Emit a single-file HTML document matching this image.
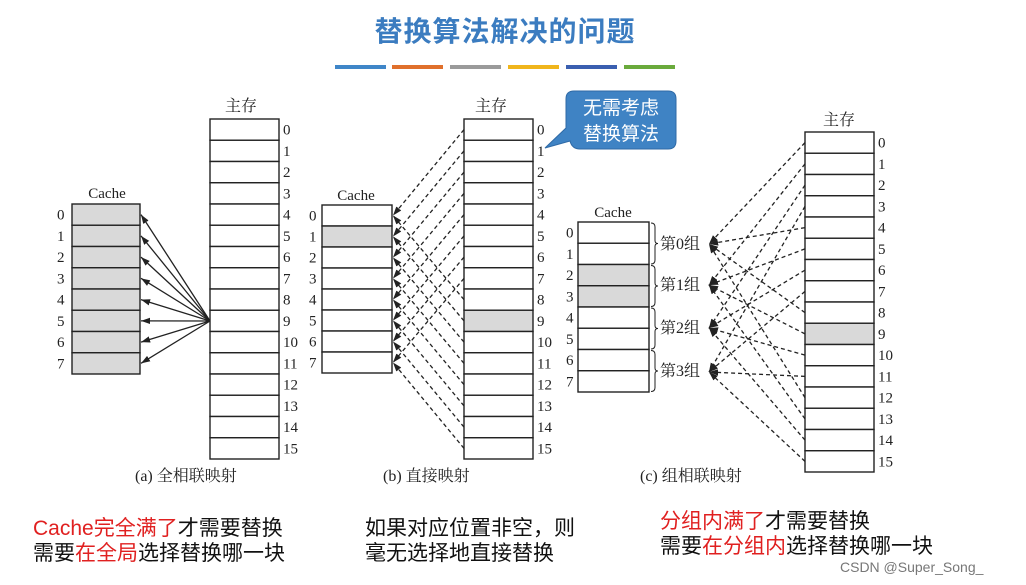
<!DOCTYPE html>
<html><head><meta charset="utf-8">
<style>
html,body{margin:0;padding:0;background:#fff;}
body{width:1026px;height:585px;position:relative;overflow:hidden;font-family:"Liberation Sans","Noto Sans CJK SC",sans-serif;}
.title{position:absolute;left:0;width:1010px;top:10px;text-align:center;font-size:28px;color:#3b7cc0;font-weight:bold;letter-spacing:1px;}
.t{position:absolute;font-size:21px;color:#111;line-height:25px;}
.r{color:#e02020;}
.wm{position:absolute;left:840px;top:559px;font-size:14px;color:#777;}
svg{position:absolute;left:0;top:0;}
svg text{font-family:"Liberation Serif","Noto Serif CJK SC",serif;fill:#222;}
</style></head><body>
<div class="title">替换算法解决的问题</div>
<svg id="s" width="1026" height="585" xmlns="http://www.w3.org/2000/svg">
<defs>
<marker id="ah" viewBox="0 0 10 10" refX="10" refY="5" markerWidth="7" markerHeight="7" orient="auto-start-reverse"><path d="M0,1.5 L10,5 L0,8.5 z" fill="#222"/></marker>
</defs>
<rect x="335" y="65" width="51" height="4" fill="#3f86c8"/>
<rect x="392" y="65" width="51" height="4" fill="#e0702c"/>
<rect x="450" y="65" width="51" height="4" fill="#9a9a9a"/>
<rect x="508" y="65" width="51" height="4" fill="#f0b51c"/>
<rect x="566" y="65" width="51" height="4" fill="#3a5fb0"/>
<rect x="624" y="65" width="51" height="4" fill="#6aaa3c"/>
<g id="g"></g>
<text x="241" y="111" font-size="16" text-anchor="middle">主存</text>
<text x="107" y="198" font-size="15" text-anchor="middle">Cache</text>
<text x="491" y="111" font-size="16" text-anchor="middle">主存</text>
<text x="356" y="200" font-size="15" text-anchor="middle">Cache</text>
<text x="839" y="125" font-size="16" text-anchor="middle">主存</text>
<text x="613" y="217" font-size="15" text-anchor="middle">Cache</text>
<text x="135" y="481" font-size="16">(a) 全相联映射</text>
<text x="383" y="481" font-size="16">(b) 直接映射</text>
<text x="640" y="481" font-size="16">(c) 组相联映射</text>
<text x="660" y="249" font-size="16">第0组</text>
<text x="660" y="290" font-size="16">第1组</text>
<text x="660" y="333" font-size="16">第2组</text>
<text x="660" y="376" font-size="16">第3组</text>
<path d="M574,91 H668 Q676,91 676,99 V141 Q676,149 668,149 H580 Q572,149 570,141 L545,148 L566,128 V99 Q566,91 574,91 Z" fill="#3f83c4" stroke="#2f6aa6"/>
<text x="621" y="114" font-size="19" text-anchor="middle" style="fill:#fff;font-family:'Noto Sans CJK SC',sans-serif">无需考虑</text>
<text x="621" y="140" font-size="19" text-anchor="middle" style="fill:#fff;font-family:'Noto Sans CJK SC',sans-serif">替换算法</text>
</svg>
<div class="t" style="left:33px;top:516px"><span class="r">Cache完全满了</span>才需要替换<br>需要<span class="r">在全局</span>选择替换哪一块</div>
<div class="t" style="left:365px;top:516px">如果对应位置非空，则<br>毫无选择地直接替换</div>
<div class="t" style="left:660px;top:509px"><span class="r">分组内满了</span>才需要替换<br>需要<span class="r">在分组内</span>选择替换哪一块</div>
<div class="wm">CSDN @Super_Song_</div>
<script>
var g=document.getElementById('g'),NS='http://www.w3.org/2000/svg';
function el(t,a,txt){var e=document.createElementNS(NS,t);for(var k in a)e.setAttribute(k,a[k]);if(txt!==undefined)e.textContent=txt;g.appendChild(e);return e;}
function col(x,y,w,n,h,grays,lx){for(var i=0;i<n;i++){el('rect',{x:x,y:y+i*h,width:w,height:h,fill:grays.indexOf(i)>=0?'#d9d9d9':'#fff',stroke:'#222','stroke-width':1.4});
 el('text',{x:lx,y:y+i*h+h/2+5,'font-size':15},i);}}
function ln(x1,y1,x2,y2,d){el('line',{x1:x1,y1:y1,x2:x2,y2:y2,stroke:'#222','stroke-width':1.3,'stroke-dasharray':d?'4,3':'none','marker-end':'url(#ah)'});}
var mh=21.25;
for(var i=0;i<8;i++)ln(210,321,141,204+i*21.25+10.6,false);
col(72,204,68,8,21.25,[0,1,2,3,4,5,6,7],57);
col(210,119,69,16,mh,[],283);
for(var i=0;i<16;i++)ln(464,119+i*mh+mh/2,393,205+(i%8)*21+10.5,true);
col(322,205,70,8,21,[1],309);
col(464,119,69,16,mh,[9],537);
var gy=[244,285,328,372];
for(var i=0;i<16;i++)ln(805,132+i*mh+mh/2,709,gy[i%4],true);
col(578,222,71,8,21.25,[2,3],566);
col(805,132,69,16,mh,[9],878);
for(var k=0;k<4;k++){var y0=223+k*42.5,y1=y0+41,m=(y0+y1)/2;
 el('path',{d:'M651,'+y0+' Q655,'+y0+' 655,'+(y0+4)+' V'+(m-3)+' Q655,'+m+' 658,'+m+' Q655,'+m+' 655,'+(m+3)+' V'+(y1-4)+' Q655,'+y1+' 651,'+y1,fill:'none',stroke:'#222','stroke-width':1});}
</script>
</body></html>
